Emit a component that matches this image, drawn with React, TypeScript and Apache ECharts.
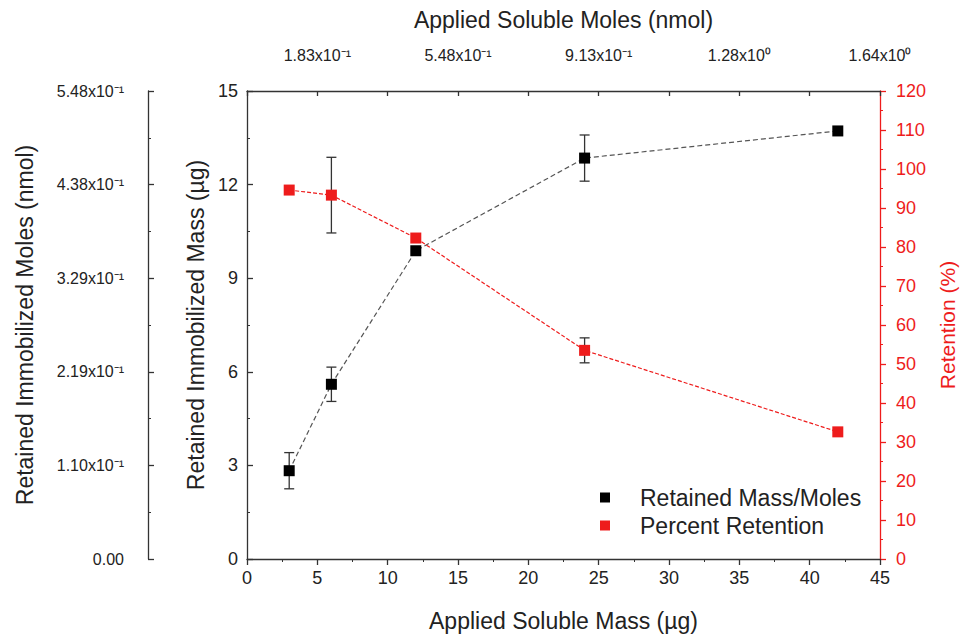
import React, { useEffect, useRef } from "react";
import * as echarts from "echarts";

const massX = [3, 6, 12, 24, 42];
const massY = [2.83, 5.6, 9.88, 12.85, 13.72];
const massErr = [0.58, 0.55, 0, 0.74, 0];
const retX = [3, 6, 12, 24, 42];
const retY = [94.6, 93.3, 82.3, 53.5, 32.6];
const retErr = [0, 9.7, 0, 3.2, 0];
const molesLeftLabels = ["0.00", "1.10x10⁻¹", "2.19x10⁻¹", "3.29x10⁻¹", "4.38x10⁻¹", "5.48x10⁻¹"];
const molesTopLabels: Record<number, string> = {
  5: "1.83x10⁻¹",
  15: "5.48x10⁻¹",
  25: "9.13x10⁻¹",
  35: "1.28x10⁰",
  45: "1.64x10⁰",
};

const FONT = "Liberation Sans, Arial, sans-serif";
const RED = "#ee1c1c";
const AX = "#333";
const TXT = "#222";

function errRender(params: any, api: any) {
  const x = api.value(0);
  const y = api.value(1);
  const e = api.value(2);
  if (!e) return null;
  const top = api.coord([x, y + e]);
  const bot = api.coord([x, y - e]);
  const cap = 5;
  const style = { stroke: "#333", lineWidth: 1.3 };
  return {
    type: "group",
    children: [
      { type: "line", shape: { x1: top[0], y1: top[1], x2: bot[0], y2: bot[1] }, style },
      { type: "line", shape: { x1: top[0] - cap, y1: top[1], x2: top[0] + cap, y2: top[1] }, style },
      { type: "line", shape: { x1: bot[0] - cap, y1: bot[1], x2: bot[0] + cap, y2: bot[1] }, style },
    ],
  };
}

export default function App() {
  const ref = useRef<HTMLDivElement>(null);
  useEffect(() => {
    if (!ref.current) return;
    const chart = echarts.init(ref.current, null, { renderer: "svg" });
    const labelStyle = { fontFamily: FONT, color: TXT };
    const titleStyle = { fontFamily: FONT, fontSize: 23, color: TXT };
    chart.setOption({
      animation: false,
      backgroundColor: "#fff",
      textStyle: { fontFamily: FONT },
      grid: { left: 247, right: 81, top: 91, bottom: 78, outerBoundsMode: "none", containLabel: false },
      legend: {
        orient: "vertical",
        left: 595,
        top: 481,
        itemWidth: 10,
        itemHeight: 10,
        itemGap: 5,
        textStyle: { fontFamily: FONT, fontSize: 23, color: TXT, padding: [0, 0, 0, 25] },
        data: [
          { name: "Retained Mass/Moles", icon: "rect", itemStyle: { color: "#000" } },
          { name: "Percent Retention", icon: "rect", itemStyle: { color: RED } },
        ],
      },
      xAxis: [
        {
          type: "value",
          position: "bottom",
          min: 0,
          max: 45,
          interval: 5,
          name: "Applied Soluble Mass (µg)",
          nameLocation: "middle",
          nameGap: 50,
          nameTextStyle: titleStyle,
          axisLine: { show: true, onZero: false, lineStyle: { color: AX, width: 1.3 } },
          axisTick: { show: true, length: 6, lineStyle: { color: AX, width: 1.3 } },
          minorTick: { show: true, splitNumber: 2, length: 3, lineStyle: { color: AX } },
          axisLabel: { ...labelStyle, fontSize: 18, margin: 10 },
          splitLine: { show: false },
        },
        {
          type: "value",
          position: "top",
          min: 0,
          max: 45,
          interval: 5,
          name: "Applied Soluble Moles (nmol)",
          nameLocation: "middle",
          nameGap: 60,
          nameTextStyle: titleStyle,
          axisLine: { show: true, onZero: false, lineStyle: { color: AX, width: 1.3 } },
          axisTick: { show: true, inside: true, length: 5, lineStyle: { color: AX, width: 1.3 } },
          axisLabel: {
            ...labelStyle,
            fontSize: 16,
            margin: 28,
            showMinLabel: true,
            showMaxLabel: true,
            formatter: (v: number) => molesTopLabels[v] || "",
          },
          splitLine: { show: false },
        },
      ],
      yAxis: [
        {
          type: "value",
          position: "left",
          min: 0,
          max: 15,
          interval: 3,
          name: "Retained Immobilized Mass (µg)",
          nameLocation: "middle",
          nameGap: 38,
          nameTextStyle: titleStyle,
          axisLine: { show: true, onZero: false, lineStyle: { color: AX, width: 1.3 } },
          axisTick: { show: true, inside: true, length: 6, lineStyle: { color: AX, width: 1.3 } },
          minorTick: { show: true, splitNumber: 2, length: 3, lineStyle: { color: AX } },
          axisLabel: { ...labelStyle, fontSize: 18, margin: 9 },
          splitLine: { show: false },
        },
        {
          type: "value",
          position: "left",
          offset: 99,
          min: 0,
          max: 15,
          interval: 3,
          name: "Retained Immobilized Moles (nmol)",
          nameLocation: "middle",
          nameGap: 112,
          nameTextStyle: titleStyle,
          axisLine: { show: true, onZero: false, lineStyle: { color: AX, width: 1.3 } },
          axisTick: { show: true, inside: true, length: 6, lineStyle: { color: AX, width: 1.3 } },
          minorTick: { show: true, splitNumber: 2, length: 3, lineStyle: { color: AX } },
          axisLabel: {
            ...labelStyle,
            fontSize: 16,
            margin: 24,
            formatter: (v: number) => molesLeftLabels[Math.round(v / 3)] ?? "",
          },
          splitLine: { show: false },
        },
        {
          type: "value",
          position: "right",
          min: 0,
          max: 120,
          interval: 10,
          name: "Retention (%)",
          nameLocation: "middle",
          nameGap: 48,
          nameRotate: 90,
          nameTextStyle: { ...titleStyle, fontSize: 21, color: RED },
          axisLine: { show: true, onZero: false, lineStyle: { color: RED, width: 1.3 } },
          axisTick: { show: true, length: 6, lineStyle: { color: RED, width: 1.3 } },
          minorTick: { show: true, splitNumber: 2, length: 3, lineStyle: { color: RED } },
          axisLabel: { fontFamily: FONT, fontSize: 18, color: RED, margin: 16 },
          splitLine: { show: false },
        },
      ],
      series: [
        {
          type: "custom",
          name: "massErr",
          xAxisIndex: 0,
          yAxisIndex: 0,
          renderItem: errRender,
          data: massX.map((x, i) => [x, massY[i], massErr[i]]),
          z: 3,
          silent: true,
        },
        {
          type: "custom",
          name: "retErr",
          xAxisIndex: 0,
          yAxisIndex: 2,
          renderItem: errRender,
          data: retX.map((x, i) => [x, retY[i], retErr[i]]),
          z: 3,
          silent: true,
        },
        {
          type: "line",
          name: "Retained Mass/Moles",
          xAxisIndex: 0,
          yAxisIndex: 0,
          data: massX.map((x, i) => [x, massY[i]]),
          symbol: "rect",
          symbolSize: 11,
          itemStyle: { color: "#000" },
          lineStyle: { color: "#555", width: 1.2, type: [5, 3] },
          z: 4,
        },
        {
          type: "line",
          name: "Percent Retention",
          xAxisIndex: 0,
          yAxisIndex: 2,
          data: retX.map((x, i) => [x, retY[i]]),
          symbol: "rect",
          symbolSize: 11,
          itemStyle: { color: RED },
          lineStyle: { color: RED, width: 1.2, type: [4, 2] },
          z: 4,
        },
      ],
    });
    return () => chart.dispose();
  }, []);
  return <div ref={ref} style={{ position: "fixed", left: 0, top: 0, width: 961, height: 637 }} />;
}
